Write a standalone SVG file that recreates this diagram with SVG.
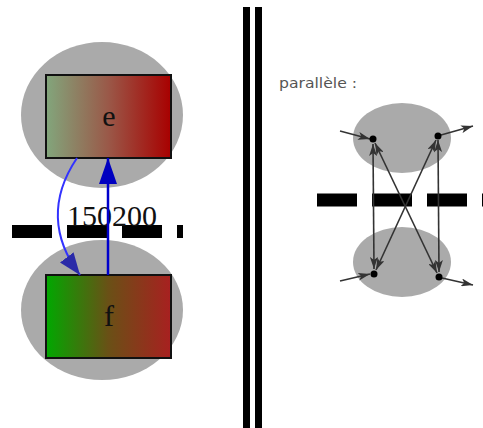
<svg xmlns="http://www.w3.org/2000/svg" width="483" height="428" viewBox="0 0 483 428">
<defs>
<linearGradient id="gE" x1="0" y1="0" x2="1" y2="0">
<stop offset="0" stop-color="#82a67c"/>
<stop offset="0.5" stop-color="#9a5848"/>
<stop offset="1" stop-color="#a80000"/>
</linearGradient>
<linearGradient id="gF" x1="0" y1="0" x2="1" y2="0">
<stop offset="0" stop-color="#00a800"/>
<stop offset="0.5" stop-color="#6a5016"/>
<stop offset="1" stop-color="#a82020"/>
</linearGradient>
<marker id="mBlue1" viewBox="0 0 22 17" refX="22" refY="8.5" markerWidth="22" markerHeight="17" markerUnits="userSpaceOnUse" orient="auto">
<path d="M0,0 L22,8.5 L0,17 Z" fill="#2a2aa8"/>
</marker>
<marker id="mBlue2" viewBox="0 0 26 18" refX="26" refY="9" markerWidth="26" markerHeight="18" markerUnits="userSpaceOnUse" orient="auto">
<path d="M0,0 L26,9 L0,18 Z" fill="#0000c0"/>
</marker>
<marker id="mGrey" viewBox="0 0 12 8" refX="12" refY="4" markerWidth="12" markerHeight="8" markerUnits="userSpaceOnUse" orient="auto-start-reverse">
<path d="M0,0 L12,4 L0,8 L3,4 Z" fill="#333"/>
</marker>
</defs>
<style>
.halo{fill:#aaaaaa}
.box{stroke:#111;stroke-width:2}
.lbl{font-family:"Liberation Serif","Times New Roman",serif;font-size:30px;fill:#111;text-anchor:middle}
.dash{stroke:#000;stroke-width:13;stroke-dasharray:40 15}
.bar{fill:#000}
.gl{stroke:#333;stroke-width:1.6;fill:none}
.dot{fill:#000}
</style>
<rect width="483" height="428" fill="#fff"/>

<g id="separator">
<rect class="bar" x="243" y="7" width="7" height="421"/>
<rect class="bar" x="255" y="7" width="7" height="421"/>
</g>

<g id="node-e">
<ellipse class="halo" cx="102" cy="115" rx="81" ry="73"/>
<rect class="box" x="46" y="75" width="125" height="83" fill="url(#gE)"/>
<text class="lbl" x="109" y="126">e</text>
</g>
<g id="node-f">
<ellipse class="halo" cx="102" cy="310" rx="81" ry="70"/>
<rect class="box" x="46" y="275" width="125" height="83" fill="url(#gF)"/>
<text class="lbl" x="109" y="326">f</text>
</g>

<g id="cut-left">
<line class="dash" x1="12" y1="231.5" x2="183" y2="231.5"/>
</g>

<g id="connectors-left">
<text class="lbl" x="112" y="226">150200</text>
<path d="M77,158 C50,198 52,238 80,275" fill="none" stroke="#3333ff" stroke-width="2" marker-end="url(#mBlue1)"/>
<line x1="108" y1="275" x2="108" y2="158" stroke="#0000cc" stroke-width="2.5" marker-end="url(#mBlue2)"/>
</g>

<g id="parallel">
<text x="279" y="88" font-family="'DejaVu Sans',Verdana,sans-serif" font-size="14.5" fill="#555" textLength="78" lengthAdjust="spacingAndGlyphs">parallèle :</text>
<g id="node-top">
<ellipse class="halo" cx="402" cy="138" rx="49" ry="35"/>
</g>
<g id="node-bottom">
<ellipse class="halo" cx="402" cy="262" rx="49" ry="35"/>
</g>
<line class="dash" x1="317" y1="200" x2="483" y2="200" stroke-width="14"/>
<g id="connectors-right">
<line class="gl" x1="373" y1="144" x2="374" y2="269" marker-start="url(#mGrey)" marker-end="url(#mGrey)"/>
<line class="gl" x1="438" y1="140" x2="439" y2="272" marker-start="url(#mGrey)" marker-end="url(#mGrey)"/>
<line class="gl" x1="375" y1="143" x2="437" y2="273" marker-start="url(#mGrey)" marker-end="url(#mGrey)"/>
<line class="gl" x1="436" y1="140" x2="376" y2="270" marker-start="url(#mGrey)" marker-end="url(#mGrey)"/>
<line class="gl" x1="340" y1="131" x2="370" y2="139" marker-end="url(#mGrey)"/>
<line class="gl" x1="441" y1="135" x2="473" y2="126" marker-end="url(#mGrey)"/>
<line class="gl" x1="340" y1="281" x2="370" y2="274" marker-end="url(#mGrey)"/>
<line class="gl" x1="442" y1="278" x2="473" y2="285" marker-end="url(#mGrey)"/>
<circle class="dot" cx="373" cy="139" r="3.5"/>
<circle class="dot" cx="438" cy="136" r="3.5"/>
<circle class="dot" cx="374" cy="274" r="3.5"/>
<circle class="dot" cx="439" cy="277" r="3.5"/>
</g>
</g>
</svg>
